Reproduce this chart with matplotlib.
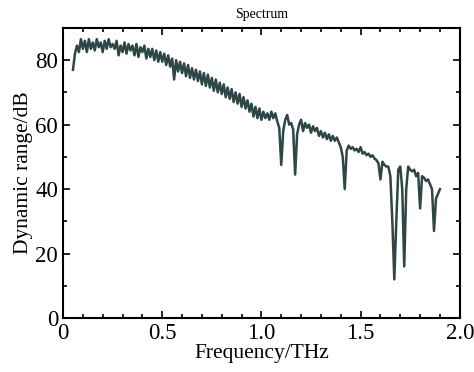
import numpy as np
import matplotlib
matplotlib.use("Agg")
import matplotlib.pyplot as plt
from matplotlib.ticker import MultipleLocator

# frequency grid (THz), one sample every 0.01 THz from 0.05 to 1.90
freq = np.round(np.arange(0.05, 1.905, 0.01), 2)

# dynamic range (dB), row by row of 10 samples
dyn_range = [
    77.0, 82.0, 84.5, 82.5, 86.5, 83.5, 86.0, 82.5, 86.5, 83.5,   # 0.05
    85.5, 83.0, 86.5, 84.0, 85.5, 82.5, 86.0, 83.5, 86.5, 84.0,   # 0.15
    85.0, 83.5, 86.0, 81.5, 84.5, 82.5, 85.5, 82.0, 85.0, 83.0,   # 0.25
    84.5, 81.5, 85.0, 81.0, 84.0, 82.5, 84.5, 80.5, 83.5, 81.0,   # 0.35
    83.5, 80.0, 83.0, 79.5, 82.5, 79.5, 82.0, 78.5, 81.5, 78.0,   # 0.45
    80.5, 74.0, 80.0, 76.5, 79.5, 76.0, 79.0, 75.0, 78.5, 74.5,   # 0.55
    77.5, 74.0, 77.0, 73.5, 76.5, 72.5, 76.0, 72.0, 75.5, 71.5,   # 0.65
    74.5, 70.5, 74.0, 70.0, 73.0, 69.5, 72.5, 68.5, 71.5, 68.0,   # 0.75
    71.0, 67.0, 70.0, 66.5, 69.5, 65.5, 68.5, 65.0, 67.5, 64.0,   # 0.85
    66.5, 62.5, 65.5, 62.0, 65.0, 61.5, 64.0, 62.0, 63.5, 61.5,   # 0.95
    64.0, 62.0, 63.5, 61.0, 59.0, 47.5, 58.0, 61.5, 63.0, 60.0,   # 1.05
    60.5, 58.5, 44.5, 57.0, 60.0, 61.5, 58.0, 60.5, 59.0, 60.0,   # 1.15
    57.5, 59.5, 58.0, 59.0, 56.5, 58.0, 56.0, 57.5, 55.5, 57.0,   # 1.25
    55.0, 56.5, 55.0, 56.0, 54.5, 53.0, 50.0, 40.0, 52.0, 53.5,   # 1.35
    52.5, 53.0, 52.0, 52.5, 51.5, 53.0, 51.0, 51.5, 50.5, 51.0,   # 1.45
    50.0, 50.5, 49.5, 49.0, 48.0, 43.0, 48.5, 47.5, 47.0, 47.0,   # 1.55
    44.0, 30.0, 12.0, 30.0, 46.0, 47.0, 40.0, 16.0, 40.0, 47.0,   # 1.65
    46.0, 45.5, 46.0, 44.0, 45.0, 34.0, 44.0, 43.5, 42.5, 43.0,   # 1.75
    41.5, 40.0, 27.0, 37.0, 38.5, 40.0,                           # 1.85
]

plt.rcParams['font.family'] = ['Liberation Serif', 'DejaVu Serif']

fig = plt.figure(figsize=(4.74, 3.72), dpi=100)
ax = fig.add_axes([0.133, 0.145, 0.837, 0.78])

ax.plot(freq, dyn_range, color='#2d4646', linewidth=1.8)

ax.set_xlim(0, 2.0)
ax.set_ylim(0, 90)
ax.xaxis.set_major_locator(MultipleLocator(0.5))
ax.xaxis.set_minor_locator(MultipleLocator(0.1))
ax.yaxis.set_major_locator(MultipleLocator(20))
ax.yaxis.set_minor_locator(MultipleLocator(10))
ax.set_xticks([0, 0.5, 1.0, 1.5, 2.0])
ax.set_xticklabels(['0', '0.5', '1.0', '1.5', '2.0'])

ax.tick_params(which='both', direction='in', top=True, right=True, labelsize=16.5, width=1.2)
ax.tick_params(which='major', length=5)
ax.tick_params(which='minor', length=3)
for s in ax.spines.values():
    s.set_linewidth(1.5)

ax.set_xlabel('Frequency/THz', fontsize=15.5, labelpad=0)
ax.set_ylabel('Dynamic range/dB', fontsize=15.5, labelpad=2)
ax.set_title('Spectrum', fontsize=10, pad=7)

fig.savefig('out.png', dpi=100)
